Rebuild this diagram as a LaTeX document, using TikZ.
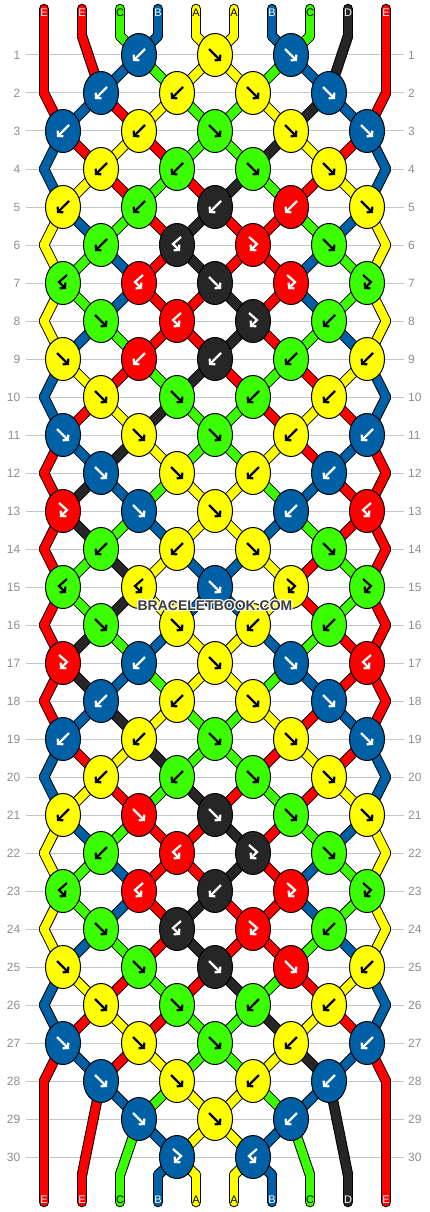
\documentclass[tikz,border=0pt]{standalone}
\usepackage{fontspec}
\setmainfont{Liberation Sans}
\usetikzlibrary{shapes.geometric,arrows.meta}
\pgfdeclarelayer{rows}
\pgfdeclarelayer{threads}
\pgfsetlayers{rows,threads,main}

\definecolor{strA}{HTML}{FFFF00}
\definecolor{strB}{HTML}{0060A6}
\definecolor{strC}{HTML}{3BFF00}
\definecolor{strD}{HTML}{262626}
\definecolor{strE}{HTML}{FF0000}
\colorlet{tipA}{black}
\colorlet{tipB}{white}
\colorlet{tipC}{black}
\colorlet{tipD}{white}
\colorlet{tipE}{white}
\definecolor{rowgray}{HTML}{C4C4C4}
\definecolor{numgray}{HTML}{8E8E8E}
\definecolor{wmark}{HTML}{3C3C3C}

\tikzset{
  knot/.style={ellipse, draw=black, line width=1pt, minimum width=35pt, minimum height=43pt, inner sep=0pt},
  threadedge/.style={draw=black, line width=10.5pt, line cap=round, line join=round},
  threadfill/.style={line width=8.5pt, line cap=round, line join=round},
  knotarrow/.style={line width=2.2pt, -{Straight Barb[length=3.5pt,width=8pt]}},
  glyph f/.style={insert path={(-6,-6) -- (6,6)}},
  glyph b/.style={insert path={(6,-6) -- (-6,6)}},
  glyph fb/.style={insert path={(-4,-8) -- (4,-1) -- (-3,6)}},
  glyph bf/.style={insert path={(4,-8) -- (-4,-1) -- (3,6)}},
  gridline/.style={draw=rowgray, line width=1pt},
  rowlabel/.style={font=\fontsize{12}{14}\selectfont, text=numgray, inner sep=0pt},
  endlabel/.style={font=\fontsize{11}{13}\selectfont, inner sep=0pt},
  marktext/.style={font=\bfseries\fontsize{14}{16}\selectfont, inner sep=0pt},
}

\def\threadrows{%
0/{E,E,C,B,A,A,B,C,D,E},%
1/{E,E,B,C,A,A,C,B,D,E},%
2/{E,B,E,A,C,C,A,D,B,E},%
3/{B,E,A,E,C,C,D,A,E,B},%
4/{B,A,E,C,E,D,C,E,A,B},%
5/{A,B,C,E,D,E,E,C,B,A},%
6/{A,C,B,E,D,E,E,B,C,A},%
7/{A,C,B,E,E,D,E,B,C,A},%
8/{A,B,C,E,E,D,E,C,B,A},%
9/{B,A,E,C,D,E,C,E,A,B},%
10/{B,E,A,D,C,C,E,A,E,B},%
11/{E,B,D,A,C,C,A,E,B,E},%
12/{E,D,B,C,A,A,C,B,E,E},%
13/{E,D,C,B,A,A,B,C,E,E},%
14/{E,C,D,A,B,B,A,E,C,E},%
15/{E,C,D,A,B,B,A,E,C,E},%
16/{E,D,C,B,A,A,B,C,E,E},%
17/{E,D,B,C,A,A,C,B,E,E},%
18/{E,B,D,A,C,C,A,E,B,E},%
19/{B,E,A,D,C,C,E,A,E,B},%
20/{B,A,E,C,D,E,C,E,A,B},%
21/{A,B,C,E,E,D,E,C,B,A},%
22/{A,C,B,E,E,D,E,B,C,A},%
23/{A,C,B,E,D,E,E,B,C,A},%
24/{A,B,C,E,D,E,E,C,B,A},%
25/{B,A,E,C,E,D,C,E,A,B},%
26/{B,E,A,E,C,C,D,A,E,B},%
27/{E,B,E,A,C,C,A,D,B,E},%
28/{E,E,B,C,A,A,C,B,D,E},%
29/{E,E,C,B,A,A,B,C,D,E},%
30/{E,E,C,B,A,A,B,C,D,E}}

\def\knotrows{%
1/{3/B/b,5/A/f,7/B/f},%
2/{2/B/b,4/A/b,6/A/f,8/B/f},%
3/{1/B/b,3/A/b,5/C/f,7/A/f,9/B/f},%
4/{2/A/b,4/C/b,6/C/f,8/A/f},%
5/{1/A/b,3/C/b,5/D/b,7/E/b,9/A/f},%
6/{2/C/b,4/D/bf,6/E/fb,8/C/f},%
7/{1/C/bf,3/E/bf,5/D/f,7/E/fb,9/C/fb},%
8/{2/C/f,4/E/bf,6/D/fb,8/C/b},%
9/{1/A/f,3/E/b,5/D/b,7/C/b,9/A/b},%
10/{2/A/f,4/C/f,6/C/b,8/A/b},%
11/{1/B/f,3/A/f,5/C/f,7/A/b,9/B/b},%
12/{2/B/f,4/A/f,6/A/b,8/B/b},%
13/{1/E/fb,3/B/f,5/A/f,7/B/b,9/E/bf},%
14/{2/C/b,4/A/b,6/A/f,8/C/f},%
15/{1/C/bf,3/A/bf,5/B/f,7/A/fb,9/C/fb},%
16/{2/C/f,4/A/f,6/A/b,8/C/b},%
17/{1/E/fb,3/B/b,5/A/f,7/B/f,9/E/bf},%
18/{2/B/b,4/A/b,6/A/f,8/B/f},%
19/{1/B/b,3/A/b,5/C/f,7/A/f,9/B/f},%
20/{2/A/b,4/C/b,6/C/f,8/A/f},%
21/{1/A/b,3/E/f,5/D/f,7/C/f,9/A/f},%
22/{2/C/b,4/E/bf,6/D/fb,8/C/f},%
23/{1/C/bf,3/E/bf,5/D/b,7/E/fb,9/C/fb},%
24/{2/C/f,4/D/bf,6/E/fb,8/C/b},%
25/{1/A/f,3/C/f,5/D/f,7/E/f,9/A/b},%
26/{2/A/f,4/C/f,6/C/b,8/A/b},%
27/{1/B/f,3/A/f,5/C/f,7/A/b,9/B/b},%
28/{2/B/f,4/A/f,6/A/b,8/B/b},%
29/{3/B/f,5/A/f,7/B/b},%
30/{4/B/fb,6/B/bf}}

\begin{document}
\begin{tikzpicture}[x=1pt,y=-1pt]
  \useasboundingbox (0,0) rectangle (430,1212);
  \begin{pgfonlayer}{rows}
    \foreach \rw in {1,...,30} {
      \draw[gridline] (26,17+38*\rw) -- (404,17+38*\rw);
      \node[rowlabel, anchor=east] (left-\rw) at (20.5,17+38*\rw) {\rw};
      \node[rowlabel, anchor=west] (right-\rw) at (408,17+38*\rw) {\rw};
    }
  \end{pgfonlayer}

  \foreach \ps in {1,...,10} {
    \coordinate (top-\ps) at (6+38*\ps,9);
    \coordinate (n-0-\ps) at (6+38*\ps,36);
    \coordinate (n-31-\ps) at (6+38*\ps,1175);
    \coordinate (bot-\ps) at (6+38*\ps,1202);
  }
  \foreach \rw in {2,4,...,28} {
    \coordinate (n-\rw-1) at (44,17+38*\rw);
    \coordinate (n-\rw-10) at (386,17+38*\rw);
  }
  \coordinate (n-1-1) at (44,55);
  \coordinate (n-1-2) at (88.33,55);
  \coordinate (n-1-9) at (341.67,55);
  \coordinate (n-1-10) at (386,55);
  \coordinate (n-29-1) at (44,1119);
  \coordinate (n-29-2) at (93.32,1119);
  \coordinate (n-29-9) at (336.68,1119);
  \coordinate (n-29-10) at (386,1119);
  \coordinate (n-30-1) at (44,1157);
  \coordinate (n-30-2) at (85.64,1157);
  \coordinate (n-30-3) at (126.1,1157);
  \coordinate (n-30-8) at (303.9,1157);
  \coordinate (n-30-9) at (344.36,1157);
  \coordinate (n-30-10) at (386,1157);

  \foreach \rw/\row in \knotrows {
    \foreach \ps/\cl/\kt in \row {
      \pgfmathtruncatemacro\qs{\ps+1}
      \pgfmathsetmacro\kx{25+38*\ps}
      \pgfmathsetmacro\ky{17+38*\rw}
      \node[knot, fill=str\cl, alias=n-\rw-\qs] (n-\rw-\ps) at (\kx,\ky) {};
      \draw[knotarrow, color=tip\cl, shift={(\kx,\ky)}, glyph \kt];
    }
  }

  \begin{pgfonlayer}{threads}
    \foreach \rw/\seq in \threadrows {
      \pgfmathtruncatemacro\nx{\rw+1}
      \foreach \cl [count=\ps] in \seq
        \draw[threadedge] (n-\rw-\ps.center) -- (n-\nx-\ps.center);
    }
    \foreach \cl [count=\ps] in {E,E,C,B,A,A,B,C,D,E}
      \draw[threadedge] (top-\ps) -- (n-0-\ps) (n-31-\ps) -- (bot-\ps);
    \foreach \rw/\seq in \threadrows {
      \pgfmathtruncatemacro\nx{\rw+1}
      \foreach \cl [count=\ps] in \seq
        \draw[threadfill, draw=str\cl] (n-\rw-\ps.center) -- (n-\nx-\ps.center);
    }
    \foreach \cl [count=\ps] in {E,E,C,B,A,A,B,C,D,E}
      \draw[threadfill, draw=str\cl] (top-\ps) -- (n-0-\ps) (n-31-\ps) -- (bot-\ps);
  \end{pgfonlayer}

  \foreach \cl [count=\ps] in {E,E,C,B,A,A,B,C,D,E} {
    \node[endlabel, text=tip\cl] (head-\ps) at (6+38*\ps,12.5) {\cl};
    \node[endlabel, text=tip\cl] (tail-\ps) at (6+38*\ps,1199.5) {\cl};
  }

  \foreach \dx/\dy [count=\h] in {-1/-1,0/-1,1/-1,-1/0,1/0,-1/1,0/1,1/1}
    \node[marktext, text=white] (halo-\h) at (215+\dx,605.5+\dy) {BRACELETBOOK.COM};
  \node[marktext, text=wmark] (mark) at (215,605.5) {BRACELETBOOK.COM};
\end{tikzpicture}
\end{document}
